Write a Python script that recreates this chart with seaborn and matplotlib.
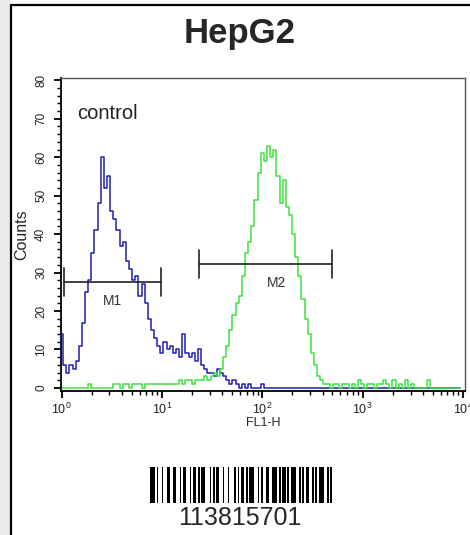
import numpy as np
import pandas as pd
import matplotlib.pyplot as plt
import seaborn as sns
from matplotlib.ticker import MultipleLocator, LogLocator, NullFormatter
from matplotlib.lines import Line2D
from matplotlib.patches import Rectangle

# Histogram data: 32 channels per decade on FL1-H, 4 decades
CHANNELS_PER_DECADE = 32

# control (blue); channels after the last one listed are empty
control_counts = [14, 6, 4, 6, 5, 7, 11, 17, 25, 28,
                  35, 41, 48, 60, 52, 55, 46, 44, 41, 37,
                  38, 33, 31, 28, 29, 24, 27, 22, 18, 15,
                  13, 11, 9, 12, 10, 11, 9, 10, 8, 14,
                  9, 8, 9, 7, 10, 6, 5, 4, 4, 3,
                  5, 4, 3, 2, 1, 2, 1, 0, 1, 0,
                  1, 0, 0, 0, 1]

# HepG2 (green)
sample_counts = [0, 0, 0, 0, 0, 0, 0, 0, 0, 1,
                 0, 0, 0, 0, 0, 0, 0, 1, 1, 0,
                 1, 1, 0, 1, 1, 1, 0, 1, 1, 1,
                 1, 1, 1, 1, 1, 1, 1, 1, 2, 1,
                 2, 2, 1, 2, 2, 2, 3, 2, 3, 4,
                 3, 5, 8, 11, 15, 19, 22, 24, 29, 35,
                 38, 42, 49, 56, 61, 59, 63, 60, 62, 55,
                 48, 54, 47, 45, 40, 34, 29, 23, 18, 14,
                 9, 6, 3, 2, 1, 1, 0, 1, 1, 0,
                 1, 1, 0, 1, 0, 2, 1, 0, 1, 1,
                 0, 1, 1, 2, 1, 0, 2, 0, 1, 0,
                 2, 0, 1, 0, 0, 0, 0, 2, 0, 0,
                 0, 0, 0, 0, 0, 0, 0, 0]

# gate markers
marker_names = ['M1', 'M2']
marker_lo = [1.05, 23.4]
marker_hi = [9.8, 500.0]
marker_level = [27.5, 32.2]
marker_label_x = [3.2, 138.0]

# barcode: alternating bar / space widths (modules), starting with a bar
barcode_widths = [3, 1, 1, 2, 1, 2, 2, 2, 2, 2, 1, 1, 2, 2, 1, 1, 2, 1, 1, 1,
                  2, 3, 1, 1, 1, 1, 2, 2, 1, 2, 1, 3, 1, 1, 1, 1, 2, 1, 1, 1,
                  3, 2, 1, 1, 1, 2, 2, 2, 3, 1, 1, 1, 2, 1, 1, 1, 3, 2, 1, 1,
                  1, 1, 2, 2, 1, 1, 1, 1, 3, 2, 1, 1, 1]
barcode_text = '113815701'

BLUE = '#1f1fae'
GREEN = '#3fe03f'

sns.set_style('ticks')
plt.rcParams['font.family'] = ['Liberation Sans', 'DejaVu Sans']

# Build long-form frame
n = len(sample_counts)
fl1 = 10 ** (np.arange(n) / CHANNELS_PER_DECADE)
control_full = control_counts + [0] * (n - len(control_counts))
df = pd.DataFrame({
    'FL1-H': np.concatenate([fl1, fl1]),
    'Counts': control_full + sample_counts,
    'sample': ['control'] * n + ['HepG2'] * n,
})

fig = plt.figure(figsize=(4.7, 5.35), dpi=100)

# page frame: grey strip on the left, black rules
fig.patches.append(Rectangle((0, 0), 10.5 / 470, 1, transform=fig.transFigure,
                             facecolor='#ebebeb', edgecolor='none', zorder=0))
fig.add_artist(Line2D([10.5 / 470, 10.5 / 470], [0, 1 - 5 / 535], transform=fig.transFigure,
                      color='black', lw=1.6))
fig.add_artist(Line2D([10.5 / 470, 1], [1 - 5 / 535, 1 - 5 / 535], transform=fig.transFigure,
                      color='black', lw=1.6))

fig.text(240 / 470, 1 - 33 / 535, 'HepG2', ha='center', va='center',
         fontsize=25, fontweight='bold')

ax = fig.add_axes([61 / 470, 1 - 391 / 535, 404 / 470, 313 / 535])
sns.lineplot(data=df, x='FL1-H', y='Counts', hue='sample',
             palette={'control': BLUE, 'HepG2': GREEN}, estimator=None,
             drawstyle='steps-mid', linewidth=1.1, legend=False, ax=ax)

ax.set_xscale('log')
ax.set_xlim(10 ** -0.005, 10 ** 4.02)
ax.set_ylim(-0.8, 80.6)
ax.xaxis.set_major_locator(LogLocator(base=10, numticks=10))
ax.xaxis.set_minor_locator(LogLocator(base=10, subs=np.arange(2, 10), numticks=50))
ax.xaxis.set_minor_formatter(NullFormatter())
ax.yaxis.set_major_locator(MultipleLocator(10))
ax.yaxis.set_minor_locator(MultipleLocator(2))

ax.tick_params(axis='both', which='major', direction='out', length=5, width=1.3,
               color='black', labelcolor='#222222')
ax.tick_params(axis='both', which='minor', direction='out', length=3, width=1.0, color='black')
ax.tick_params(axis='x', which='major', labelsize=9, pad=3)
ax.tick_params(axis='y', which='major', labelsize=8.5, pad=5, labelrotation=90)
for lab in ax.get_yticklabels():
    lab.set_va('center')

for side in ('left', 'bottom'):
    ax.spines[side].set_color('black')
    ax.spines[side].set_linewidth(1.3)
for side in ('top', 'right'):
    ax.spines[side].set_color('#555555')
    ax.spines[side].set_linewidth(1.0)

ax.set_xlabel('FL1-H', fontsize=9)
ax.xaxis.set_label_coords(0.5, -0.082)
ax.set_ylabel('Counts', fontsize=11.5)
ax.yaxis.set_label_coords(-0.078, 0.5)

ax.text(0.04, 0.885, 'control', transform=ax.transAxes, fontsize=14.5,
        ha='left', va='center', color='#222222')

# gate markers
for name, lo, hi, lev, lx in zip(marker_names, marker_lo, marker_hi, marker_level, marker_label_x):
    ax.plot([lo, hi], [lev, lev], color='#222222', lw=1.2)
    ax.plot([lo, lo], [lev - 3.6, lev + 3.6], color='#222222', lw=1.2)
    ax.plot([hi, hi], [lev - 3.6, lev + 3.6], color='#222222', lw=1.2)
    ax.text(lx, lev - 5, name, ha='center', va='center', fontsize=10, color='#333333')

# barcode
bax = fig.add_axes([150 / 470, 1 - 503 / 535, 182 / 470, 36 / 535])
edges = np.concatenate([[0], np.cumsum(barcode_widths)])
bars_left = edges[:-1][::2]
bars_width = np.array(barcode_widths)[::2]
bax.bar(bars_left, 1, width=bars_width, align='edge', color='black', linewidth=0)
bax.set_xlim(0, edges[-1])
bax.set_ylim(0, 1)
bax.axis('off')

fig.text(240 / 470, 1 - 518 / 535, barcode_text, ha='center', va='center', fontsize=18)

fig.savefig('out.png', dpi=100)
